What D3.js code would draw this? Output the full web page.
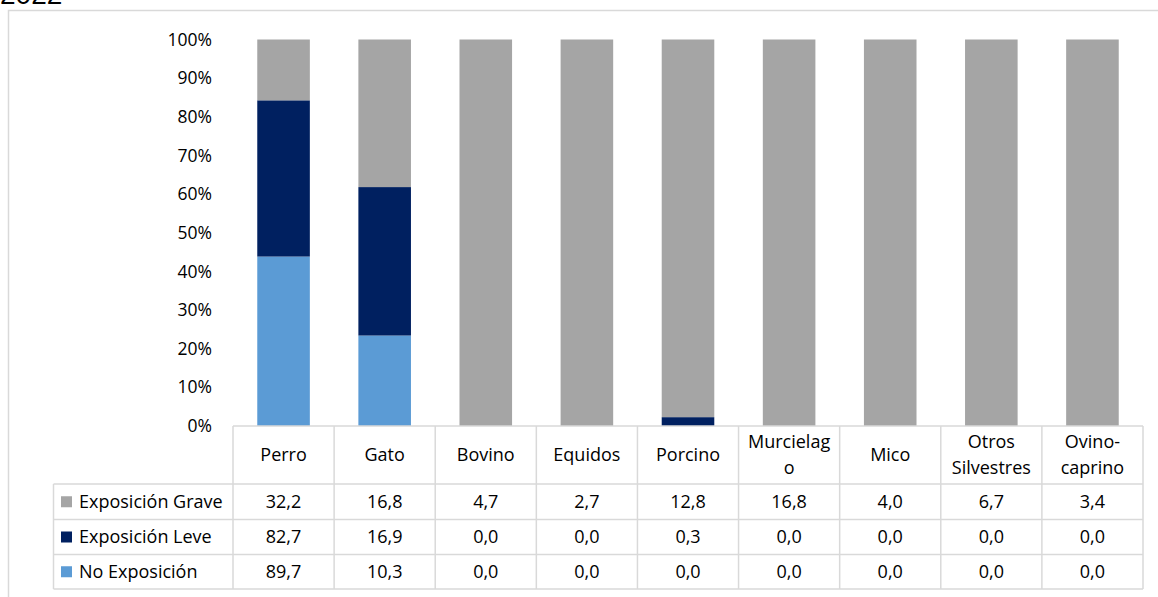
<!DOCTYPE html>
<html>
<head>
<meta charset="utf-8">
<script src="https://cdn.jsdelivr.net/npm/d3@7"></script>
<style>
  html, body { margin: 0; padding: 0; background: #fff; }
  svg { display: block; }
  text { font-family: "Open Sans", "Noto Sans", sans-serif; fill: #000; }
</style>
</head>
<body>
<svg id="chart" width="1158" height="597"></svg>
<script>
// Animal species and the three exposure classes (counts per species)
const categories = ["Perro", "Gato", "Bovino", "Equidos", "Porcino", "Murcielago", "Mico", "Otros Silvestres", "Ovino-caprino"];
const headerLines = [["Perro"], ["Gato"], ["Bovino"], ["Equidos"], ["Porcino"], ["Murcielag", "o"], ["Mico"], ["Otros", "Silvestres"], ["Ovino-", "caprino"]];
const seriesNames = ["No Exposición", "Exposición Leve", "Exposición Grave"];
const noExposicion = [89.7, 10.3, 0.0, 0.0, 0.0, 0.0, 0.0, 0.0, 0.0];
const exposicionLeve = [82.7, 16.9, 0.0, 0.0, 0.3, 0.0, 0.0, 0.0, 0.0];
const exposicionGrave = [32.2, 16.8, 4.7, 2.7, 12.8, 16.8, 4.0, 6.7, 3.4];
const yTicks = [0, 0.1, 0.2, 0.3, 0.4, 0.5, 0.6, 0.7, 0.8, 0.9, 1.0];
const colors = { "No Exposición": "#5b9bd5", "Exposición Leve": "#002060", "Exposición Grave": "#a5a5a5" };
const title = "2022";

const seriesValues = { "No Exposición": noExposicion, "Exposición Leve": exposicionLeve, "Exposición Grave": exposicionGrave };
const rows = categories.map((c, i) => {
  const r = { category: c };
  seriesNames.forEach(s => r[s] = seriesValues[s][i]);
  return r;
});

const svg = d3.select("#chart");
const fontSize = "18px";

// outer chart frame
svg.append("rect")
  .attr("x", 8.5).attr("y", 10.5)
  .attr("width", 1300).attr("height", 700)
  .attr("fill", "none").attr("stroke", "#d9d9d9").attr("stroke-width", 1.5);

// title (partly above the visible area)
svg.append("text")
  .attr("x", 0).attr("y", 4)
  .style("font-family", "'Liberation Sans', Arial, sans-serif")
  .style("font-size", "28px")
  .text(title);

const plotLeft = 233, plotRight = 1143, plotTop = 39.5, plotBottom = 426;

const xCol = d3.scaleBand().domain(categories).range([plotLeft, plotRight]).padding(0);
const xBar = d3.scaleBand().domain(categories).range([plotLeft, plotRight]).paddingInner(0.48).paddingOuter(0.24);
const y = d3.scaleLinear().domain([0, 1]).range([plotBottom, plotTop]);

const stack = d3.stack().keys(seriesNames).offset(d3.stackOffsetExpand);
const stacked = stack(rows);

svg.append("g")
  .selectAll("g")
  .data(stacked)
  .join("g")
  .attr("fill", d => colors[d.key])
  .selectAll("rect")
  .data(d => d)
  .join("rect")
  .attr("x", d => xBar(d.data.category))
  .attr("width", xBar.bandwidth())
  .attr("y", d => y(d[1]))
  .attr("height", d => Math.max(0, y(d[0]) - y(d[1])));

// y axis (labels only)
const yAxis = d3.axisLeft(y).tickValues(yTicks).tickFormat(d3.format(".0%")).tickSize(0).tickPadding(21);
const gy = svg.append("g").attr("transform", `translate(${plotLeft},0)`).call(yAxis);
gy.select(".domain").remove();
gy.selectAll("text").style("font-family", "'Open Sans', sans-serif").style("font-size", "17.5px").attr("fill", "#000");

// data table
const locale = d3.formatLocale({ decimal: ",", thousands: ".", grouping: [3], currency: ["", ""] });
const fmt = locale.format(".1f");
const tableSeries = ["Exposición Grave", "Exposición Leve", "No Exposición"];
const headerTop = plotBottom, headerBottom = 484;
const rowEdges = [484, 519.5, 554.5, 589];
const legendLeft = 53.5;
const gridColor = "#d9d9d9";
const table = svg.append("g");

// horizontal lines
table.append("line").attr("x1", plotLeft).attr("x2", plotRight).attr("y1", headerTop).attr("y2", headerTop);
rowEdges.forEach(yy => table.append("line").attr("x1", legendLeft).attr("x2", plotRight).attr("y1", yy).attr("y2", yy));
// vertical lines
const colEdges = categories.map(c => xCol(c)).concat([plotRight]);
colEdges.forEach(xx => table.append("line").attr("x1", xx).attr("x2", xx).attr("y1", headerTop).attr("y2", rowEdges[rowEdges.length - 1]));
table.append("line").attr("x1", legendLeft).attr("x2", legendLeft).attr("y1", rowEdges[0]).attr("y2", rowEdges[rowEdges.length - 1]);
table.selectAll("line").attr("stroke", gridColor).attr("stroke-width", 1.5);

// column headers
categories.forEach((c, i) => {
  const lines = headerLines[i];
  const cx = xCol(c) + xCol.bandwidth() / 2;
  const cy = (headerTop + headerBottom) / 2;
  const lh = 26;
  lines.forEach((ln, j) => {
    table.append("text")
      .attr("x", cx)
      .attr("y", cy + (j - (lines.length - 1) / 2) * lh)
      .attr("dy", "0.35em")
      .attr("text-anchor", "middle")
      .style("font-size", fontSize)
      .text(ln);
  });
});

// rows: legend key + values
tableSeries.forEach((s, r) => {
  const cy = (rowEdges[r] + rowEdges[r + 1]) / 2;
  table.append("rect")
    .attr("x", 61).attr("y", cy - 5.5)
    .attr("width", 11).attr("height", 11)
    .attr("fill", colors[s]);
  table.append("text")
    .attr("x", 79).attr("y", cy).attr("dy", "0.35em")
    .style("font-size", fontSize)
    .text(s);
  seriesValues[s].forEach((v, i) => {
    table.append("text")
      .attr("x", xCol(categories[i]) + xCol.bandwidth() / 2)
      .attr("y", cy).attr("dy", "0.35em")
      .attr("text-anchor", "middle")
      .style("font-size", fontSize)
      .text(fmt(v));
  });
});
</script>
</body>
</html>
